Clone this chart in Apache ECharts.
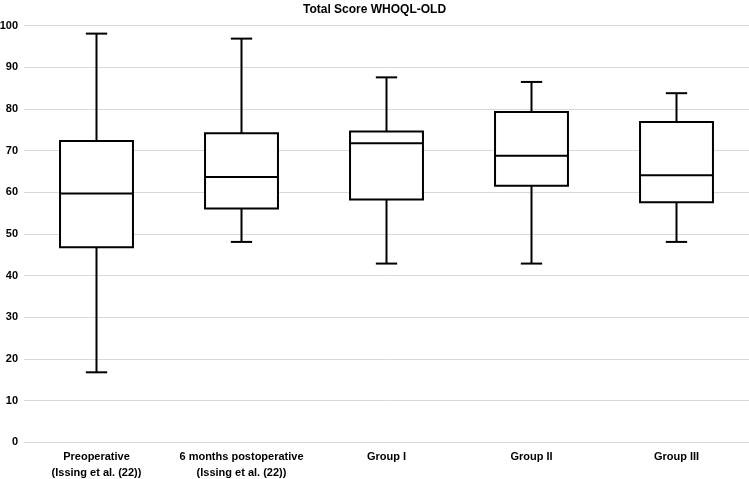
<!DOCTYPE html>
<html>
<head>
<meta charset="utf-8">
<script src="https://cdn.jsdelivr.net/npm/echarts@6/dist/echarts.min.js"></script>
<style>html,body{margin:0;padding:0;background:#fff}#c{width:749px;height:479px}</style>
</head>
<body>
<div id="c"></div>
<script>
const categories = ['Preoperative\n(Issing et al. (22))', '6 months postoperative\n(Issing et al. (22))', 'Group I', 'Group II', 'Group III'];
const minVals    = [16.8, 48.1, 42.9, 42.9, 48.1];
const q1Vals     = [46.8, 56.1, 58.3, 61.6, 57.6];
const medianVals = [59.7, 63.7, 71.8, 68.8, 64.1];
const q3Vals     = [72.3, 74.2, 74.6, 79.3, 76.9];
const maxVals    = [98.1, 96.9, 87.6, 86.5, 83.8];
const yTicks = [0, 10, 20, 30, 40, 50, 60, 70, 80, 90, 100];

const data = categories.map((c, i) => [i, minVals[i], q1Vals[i], medianVals[i], q3Vals[i], maxVals[i]]);

const chart = echarts.init(document.getElementById('c'));
const style = { stroke: '#000', lineWidth: 2, fill: null };
function renderItem(params, api) {
  const i = api.value(0);
  const pMin = api.coord([i, api.value(1)]);
  const pQ1 = api.coord([i, api.value(2)]);
  const pMed = api.coord([i, api.value(3)]);
  const pQ3 = api.coord([i, api.value(4)]);
  const pMax = api.coord([i, api.value(5)]);
  const band = api.size([1, 0])[0];
  const bw = band * 0.503, cw = band * 0.147;
  const x = pMin[0];
  const line = (x1, y1, x2, y2) => ({ type: 'line', shape: { x1, y1, x2, y2 }, style });
  return {
    type: 'group',
    children: [
      line(x, pMin[1], x, pQ1[1]),
      line(x, pQ3[1], x, pMax[1]),
      line(x - cw / 2, pMin[1], x + cw / 2, pMin[1]),
      line(x - cw / 2, pMax[1], x + cw / 2, pMax[1]),
      { type: 'rect', shape: { x: x - bw / 2, y: pQ3[1], width: bw, height: pQ1[1] - pQ3[1] }, style: { stroke: '#000', lineWidth: 2, fill: '#fff' } },
      line(x - bw / 2, pMed[1], x + bw / 2, pMed[1])
    ]
  };
}
chart.setOption({
  animation: false,
  title: {
    text: 'Total Score WHOQL-OLD', left: 'center', top: -1,
    textStyle: { fontFamily: 'Liberation Sans', fontSize: 12, fontWeight: 'bold', color: '#000' }
  },
  grid: { left: 24, right: 0, top: 25.7, bottom: 36.7, containLabel: false, outerBoundsMode: 'none' },
  xAxis: {
    type: 'category', data: categories,
    axisLine: { show: true, lineStyle: { color: '#d9d9d9', width: 1 } },
    axisTick: { show: false },
    axisLabel: { fontFamily: 'Liberation Sans', fontSize: 11, fontWeight: 'bold', color: '#000', margin: 7, lineHeight: 16, interval: 0 }
  },
  yAxis: {
    type: 'value', min: yTicks[0], max: yTicks[yTicks.length - 1], interval: 10,
    axisLine: { show: false }, axisTick: { show: false },
    splitLine: { lineStyle: { color: '#d9d9d9', width: 1 } },
    axisLabel: { fontFamily: 'Liberation Sans', fontSize: 11, fontWeight: 'bold', color: '#000', margin: 6 }
  },
  series: [{
    type: 'custom', renderItem, data,
    encode: { x: 0, y: [1, 2, 3, 4, 5] }
  }]
});
</script>
</body>
</html>
